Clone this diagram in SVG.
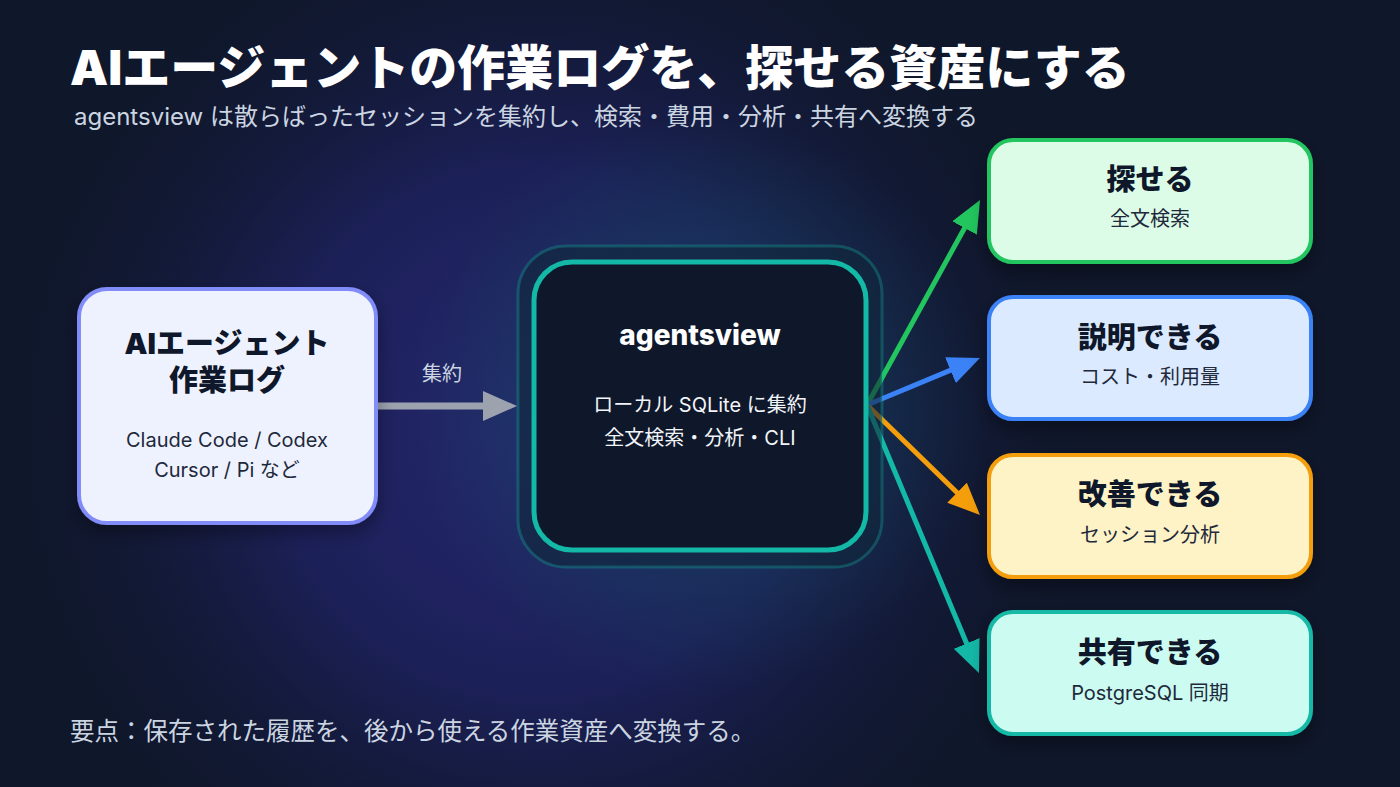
<svg xmlns="http://www.w3.org/2000/svg" width="1400" height="787" viewBox="0 0 1400 787">
  <defs>
    <radialGradient id="bgGlow" cx="540" cy="430" r="580" gradientUnits="userSpaceOnUse">
      <stop offset="0" stop-color="#25266e"/>
      <stop offset="0.45" stop-color="#1c2058"/>
      <stop offset="1" stop-color="#0f172a" stop-opacity="0"/>
    </radialGradient>
    <radialGradient id="tealGlow" cx="700" cy="405" r="290" gradientUnits="userSpaceOnUse">
      <stop offset="0" stop-color="#155e63" stop-opacity="0.55"/>
      <stop offset="0.6" stop-color="#134e5e" stop-opacity="0.3"/>
      <stop offset="1" stop-color="#134e5e" stop-opacity="0"/>
    </radialGradient>
    <filter id="shadow" x="-20%" y="-20%" width="140%" height="150%">
      <feDropShadow dx="0" dy="8" stdDeviation="9" flood-color="#000000" flood-opacity="0.35"/>
    </filter>
    <marker id="ahGray" markerUnits="userSpaceOnUse" markerWidth="34" markerHeight="30" refX="17" refY="15" orient="auto">
      <path d="M0,0 L34,15 L0,30 z" fill="#9ca3af"/>
    </marker>
    <marker id="ahGreen" markerUnits="userSpaceOnUse" markerWidth="32" markerHeight="28" refX="16" refY="14" orient="auto">
      <path d="M0,0 L32,14 L0,28 z" fill="#22c55e"/>
    </marker>
    <marker id="ahBlue" markerUnits="userSpaceOnUse" markerWidth="32" markerHeight="28" refX="16" refY="14" orient="auto">
      <path d="M0,0 L32,14 L0,28 z" fill="#3b82f6"/>
    </marker>
    <marker id="ahOrange" markerUnits="userSpaceOnUse" markerWidth="32" markerHeight="28" refX="16" refY="14" orient="auto">
      <path d="M0,0 L32,14 L0,28 z" fill="#f59e0b"/>
    </marker>
    <marker id="ahTeal" markerUnits="userSpaceOnUse" markerWidth="32" markerHeight="28" refX="16" refY="14" orient="auto">
      <path d="M0,0 L32,14 L0,28 z" fill="#14b8a6"/>
    </marker>
  </defs>
  <style>
    text { font-family: "Inter", "Noto Sans CJK JP", sans-serif; }
    .title { font-size: 48px; font-weight: 900; fill: #ffffff; }
    .subtitle { font-size: 24px; fill: #cbd5e1; }
    .footer { font-size: 24.5px; fill: #cbd5e1; }
    .ntitle { font-size: 29px; font-weight: 900; fill: #0f172a; text-anchor: middle; }
    .nsub { font-size: 20px; fill: #1e293b; text-anchor: middle; }
    .ctitle { font-size: 28px; font-weight: 800; fill: #ffffff; text-anchor: middle; }
    .csub { font-size: 20px; fill: #f1f5f9; text-anchor: middle; }
    .elabel { font-size: 20px; fill: #cbd5e1; text-anchor: middle; }
    .conn { fill: none; stroke-width: 5; }
  </style>

  <rect x="0" y="0" width="1400" height="787" fill="#0f172a"/>
  <rect x="0" y="0" width="1400" height="787" fill="url(#bgGlow)"/>
  <rect x="0" y="0" width="1400" height="787" fill="url(#tealGlow)"/>

  <text class="title" x="70" y="85">AIエージェントの作業ログを、探せる資産にする</text>
  <text class="subtitle" x="74" y="125">agentsview は散らばったセッションを集約し、検索・費用・分析・共有へ変換する</text>

  <g id="connectors">
    <line x1="377" y1="406" x2="500" y2="406" stroke="#9ca3af" stroke-width="7" marker-end="url(#ahGray)"/>
    <text class="elabel" x="442" y="381">集約</text>
    <line class="conn" x1="867" y1="405" x2="972.3" y2="214" stroke="#22c55e" marker-end="url(#ahGreen)"/>
    <line class="conn" x1="867" y1="405" x2="965.2" y2="364.1" stroke="#3b82f6" marker-end="url(#ahBlue)"/>
    <line class="conn" x1="867" y1="405" x2="968.5" y2="503.8" stroke="#f59e0b" marker-end="url(#ahOrange)"/>
    <line class="conn" x1="867" y1="405" x2="972.8" y2="658.2" stroke="#14b8a6" marker-end="url(#ahTeal)"/>
  </g>

  <g id="node-source">
    <rect x="79" y="289" width="297" height="234" rx="28" fill="#eef2ff" stroke="#818cf8" stroke-width="4" filter="url(#shadow)"/>
    <text class="ntitle" x="227" y="354">AIエージェント</text>
    <text class="ntitle" x="227" y="391">作業ログ</text>
    <text class="nsub" x="227" y="447">Claude Code / Codex</text>
    <text class="nsub" x="227" y="477">Cursor / Pi など</text>
  </g>

  <g id="node-agentsview">
    <rect x="518" y="246" width="364" height="321" rx="48" fill="#10263a" fill-opacity="0.6" stroke="#14b8a6" stroke-opacity="0.3" stroke-width="3"/>
    <rect x="534" y="262" width="332" height="288" rx="38" fill="#0f172a" stroke="#14b8a6" stroke-width="5"/>
    <text class="ctitle" x="700" y="345">agentsview</text>
    <text class="csub" x="700" y="412">ローカル SQLite に集約</text>
    <text class="csub" x="700" y="445">全文検索・分析・CLI</text>
  </g>

  <g id="node-search">
    <rect x="989" y="140" width="322" height="122" rx="24" fill="#dcfce7" stroke="#22c55e" stroke-width="4" filter="url(#shadow)"/>
    <text class="ntitle" x="1150" y="190">探せる</text>
    <text class="nsub" x="1150" y="226">全文検索</text>
  </g>

  <g id="node-explain">
    <rect x="989" y="297" width="322" height="122" rx="24" fill="#dbeafe" stroke="#3b82f6" stroke-width="4" filter="url(#shadow)"/>
    <text class="ntitle" x="1150" y="348">説明できる</text>
    <text class="nsub" x="1150" y="384">コスト・利用量</text>
  </g>

  <g id="node-improve">
    <rect x="989" y="455" width="322" height="122" rx="24" fill="#fef3c7" stroke="#f59e0b" stroke-width="4" filter="url(#shadow)"/>
    <text class="ntitle" x="1150" y="505">改善できる</text>
    <text class="nsub" x="1150" y="542">セッション分析</text>
  </g>

  <g id="node-share">
    <rect x="989" y="612" width="322" height="122" rx="24" fill="#ccfbf1" stroke="#14b8a6" stroke-width="4" filter="url(#shadow)"/>
    <text class="ntitle" x="1150" y="663">共有できる</text>
    <text class="nsub" x="1150" y="700">PostgreSQL 同期</text>
  </g>

  <text class="footer" x="70" y="740">要点：保存された履歴を、後から使える作業資産へ変換する。</text>
</svg>
